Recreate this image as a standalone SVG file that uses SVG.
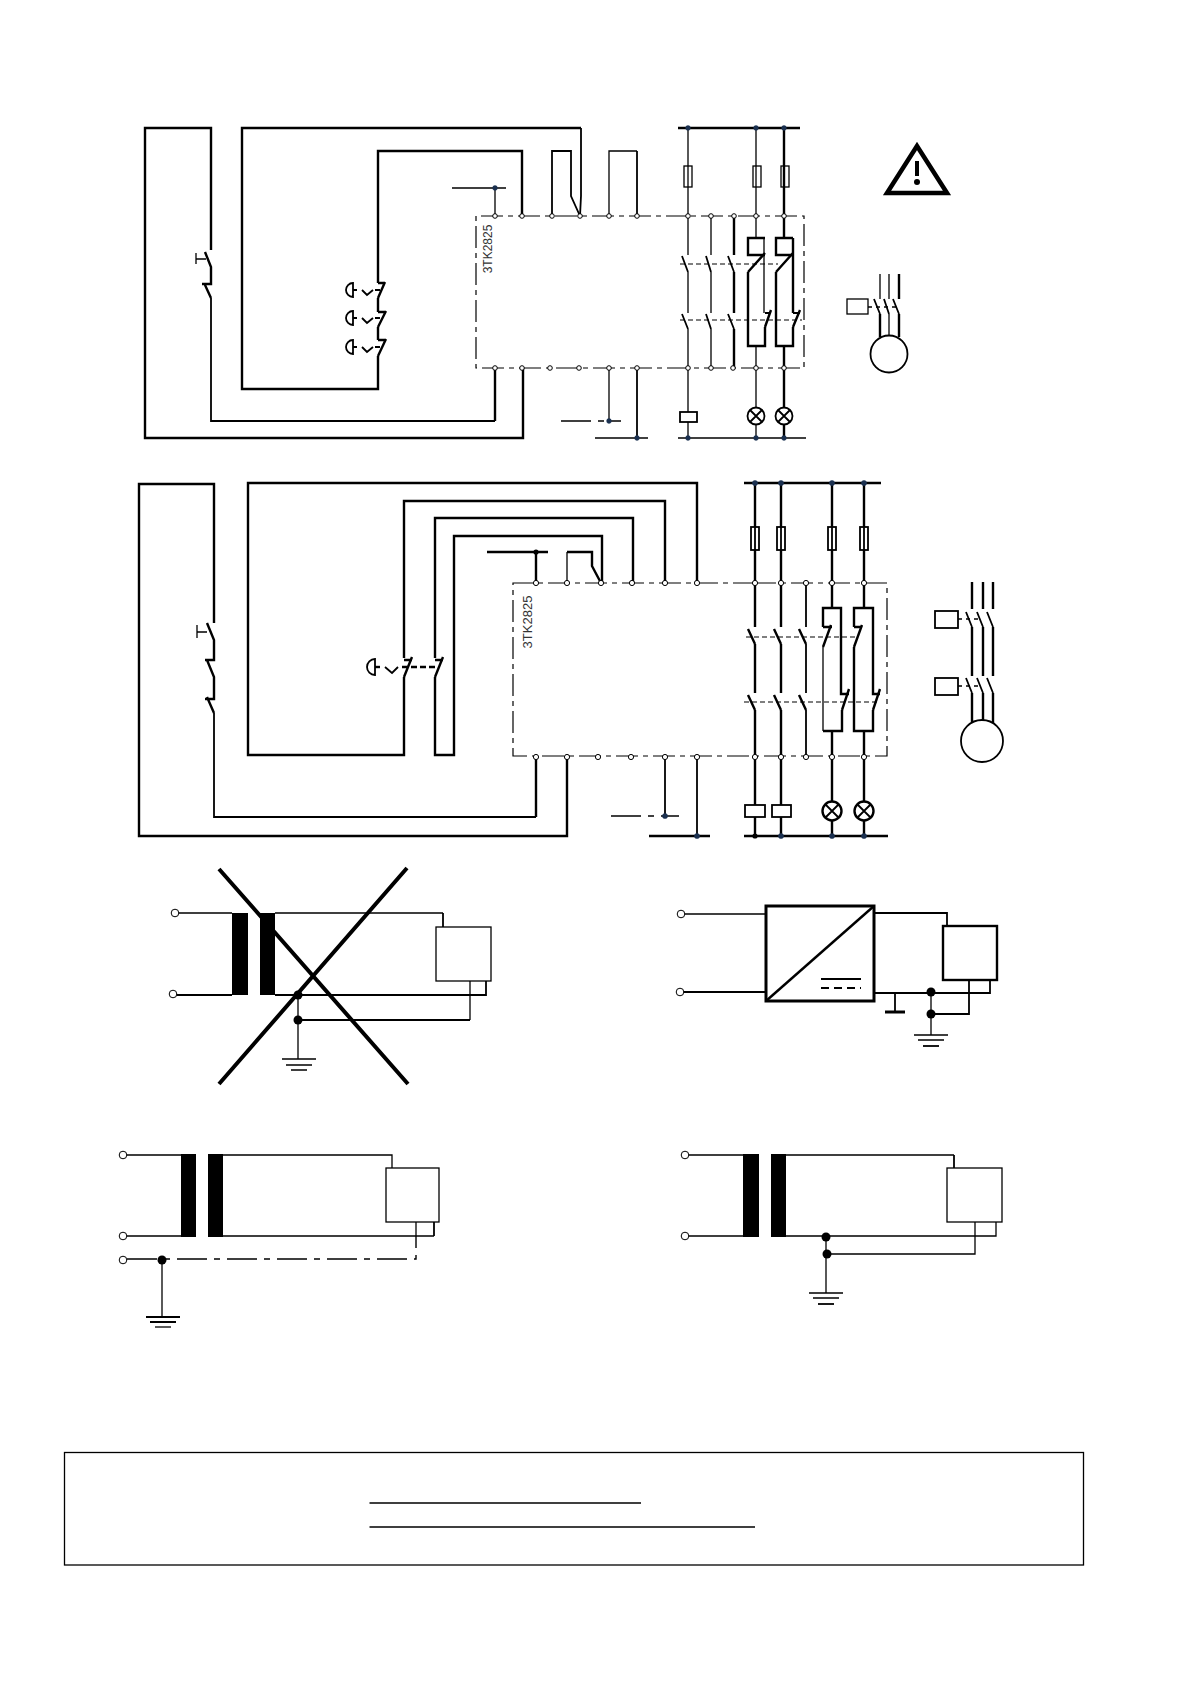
<svg xmlns="http://www.w3.org/2000/svg" width="1190" height="1684" viewBox="0 0 1190 1684">
<style>
path,line,rect,circle{stroke:#000;fill:none}
.a{stroke-width:1.3}
.b{stroke-width:1.8}
.c{stroke-width:2.4}
.d{stroke-width:3}
.box{stroke-width:1.2;stroke-dasharray:22 5 5 5}
.dd{stroke-width:1.1;stroke-dasharray:5 3}
.dc{stroke-width:1.4;stroke-dasharray:30 7 6 7}
.t{fill:#fff;stroke-width:1}
.n{fill:#1a3050;stroke:#1a3050;stroke-width:.5}
.k{fill:#000;stroke:none}
.w{fill:#fff}
.core{fill:#000;stroke:none}
text{font-family:"Liberation Sans",Arial,sans-serif;fill:#333}
</style>
<rect width="1190" height="1684" style="fill:#fff;stroke:none"/>
<g id="connectors">
<g id="top-wires">
<path class="c" d="M211 250V128H145V438H523V368"/>
<path class="b" d="M211 298V421H495"/><path class="c" d="M495 421V368"/>
<path class="c" d="M378 283V151H522V216"/>
<path class="c" d="M378 356V389H242V128H581"/><path class="b" d="M581 128V196L580 216"/>
<path class="c" d="M378 298V312M378 327V340"/>
<path class="a" d="M495 216V188M452 188H506"/>
<path class="b" d="M552 216V151H571V196L580 216"/>
<path class="a" d="M609 216V151H637"/><path class="b" d="M637 151V216"/>
<path class="a" d="M609 368V421"/><path class="dc" d="M561 421H621"/>
<path class="b" d="M637 368V438"/><path class="a" d="M595 438H648"/>
<path class="c" d="M678 128H800"/>
<path class="a" d="M678 438H806"/>
<path class="a" d="M688 128V255M688 272V313M688 329V438"/>
<path class="a" d="M711 216V255M711 272V313M711 329V368"/>
<path class="c" d="M734 216V255M734 272V313M734 329V368"/>
<path class="a" d="M756 128V238M756 346V438"/>
<path class="c" d="M784 128V238M784 346V438"/>
<path class="c" d="M756 238H748V255H765M765 238H756"/><path class="a" d="M764 238V313"/>
<path class="c" d="M748 272V346H765V327"/>
<path class="c" d="M784 238H776V255H793M793 238H784V238M793 238V313"/>
<path class="c" d="M776 272V346H793V327"/>
<path class="b" d="M765 313H771M793 313H800"/>
<path class="dd" d="M680 264H778M680 320H802"/>
<path class="box" d="M688 216H476V368H804V216H688"/>
</g>
<g id="mid-wires">
<path class="c" d="M214 623V484H139V836H567V757"/>
<path class="b" d="M214 713V817H536"/><path class="c" d="M536 817V757"/>
<path class="c" d="M404 658V501H665V583"/>
<path class="c" d="M404 677V755H248V483H697V583"/>
<path class="c" d="M435 658V518H633V583"/>
<path class="c" d="M435 677V755H454V536H602V583"/>
<path class="c" d="M487 552H548M536 552V583"/>
<path class="a" d="M567 583V552"/><path class="c" d="M567 552H592V566L601 583"/>
<path class="b" d="M665 757V816"/><path class="dc" d="M611 816H679"/>
<path class="b" d="M697 757V836"/><path class="c" d="M649 836H710"/>
<path class="c" d="M744 483H881"/><path class="c" d="M744 836H888"/>
<path class="c" d="M755 483V627M755 644V693M755 710V836"/>
<path class="c" d="M781 483V627M781 644V693M781 710V836"/>
<path class="b" d="M806 583V627M806 644V693M806 710V757"/>
<path class="c" d="M832 483V608M832 731V836"/>
<path class="c" d="M864 483V608M864 731V836"/>
<path class="c" d="M823 627V608H841V694H849M823 627H832"/>
<path class="a" d="M823 647V731"/><path class="c" d="M823 731H842V710"/>
<path class="c" d="M854 627V608H873V694H880M854 627H862"/>
<path class="c" d="M854 647V731H873V710"/>
<path class="dd" d="M746 637H857M744 702H877"/>
<path class="box" d="M755 583H513V756H887V583H755"/>
</g>
</g>
<g id="top-contacts">
<g id="sw-s1"><path class="c" d="M205 252L211 267V284H202M205 285L211 298"/><path class="a" d="M196 253V264M196 259H206"/></g>
<g id="estops">
<path class="c" d="M378 283H385M385 282L378 298M378 312H386M386 311L378 327M378 340H386M386 339L378 356"/>
<path class="b" d="M353 283A7 7 0 0 0 353 297ZM353 290H357M362 290L367 295L373 290M375 290H380"/>
<path class="b" d="M353 311A7 7 0 0 0 353 325ZM353 318H357M362 318L367 323L373 318M375 318H380"/>
<path class="b" d="M353 340A7 7 0 0 0 353 354ZM353 347H357M362 347L367 352L373 347M375 347H380"/>
</g>
<path class="b" d="M682 256L688 272M682 314L688 329M706 256L711 272M706 314L711 329M728 256L734 272M728 314L734 329"/>
<path class="c" d="M765 253L748 272M793 253L776 272M771 310L765 327M800 310L793 327"/>
</g>
<g id="top-symbols">
<rect class="w a" x="684" y="166" width="8" height="21"/><rect class="w a" x="753" y="166" width="8" height="21"/><rect class="w a" x="781" y="166" width="8" height="21"/>
<path class="a" d="M688 166V187M756 166V187"/><path class="c" d="M784 166V187"/>
<rect class="w b" x="680" y="412" width="17" height="10"/>
<g id="lamps1"><circle class="w b" cx="756" cy="416" r="8.5"/><path class="b" d="M750 410L762 422M762 410L750 422"/><circle class="w b" cx="784" cy="416" r="8.5"/><path class="b" d="M778 410L790 422M790 410L778 422"/></g>
<g id="motor1">
<rect class="a" x="847" y="299" width="21" height="15"/>
<path class="a" d="M880 274V299M889 274V299"/><path class="c" d="M899 274V299"/>
<path class="a" d="M868 307H872M876 307H880M884 307H888M892 307H896"/>
<path class="b" d="M874 299L880 314M884 299L889 314M893 299L899 314"/>
<path class="c" d="M880 314V337M899 314V337"/><path class="a" d="M889 314V336"/>
<circle class="w b" cx="889" cy="354" r="18.5"/>
</g>
<g id="warning"><path d="M917 146L947 193H887Z" style="stroke-width:4.5;stroke-linejoin:miter"/><path d="M917 161V176" style="stroke-width:4"/><circle class="k" cx="917" cy="182" r="3"/></g>
<text id="label-top" transform="translate(492 249) rotate(-90)" text-anchor="middle" font-size="12">3TK2825</text>
</g>
<g id="mid-contacts">
<path class="c" d="M207 623L214 640V660H205M207 660L214 677V699H205M207 697L214 713"/>
<path class="a" d="M197 625V638M197 632H207"/>
<path class="c" d="M748 629L755 644M748 695L755 710M774 629L781 644M774 695L781 710M799 629L806 644M799 695L806 710"/>
<path class="c" d="M831 625L823 647M862 625L854 647M849 689L842 710M880 689L873 710"/>
<g id="estop2">
<path class="c" d="M404 660H412M412 657L404 677M435 660H443M443 657L435 677"/>
<path class="b" d="M375 659A8 8 0 0 0 375 675ZM385 667L392 673L398 667"/>
<path class="c" d="M375 667H380"/><path class="c" d="M402 667H437" stroke-dasharray="6 3"/>
</g>
</g>
<g id="mid-symbols">
<rect class="w b" x="751" y="527" width="8" height="23"/><rect class="w b" x="777" y="527" width="8" height="23"/><rect class="w b" x="828" y="527" width="8" height="23"/><rect class="w b" x="860" y="527" width="8" height="23"/>
<path class="b" d="M755 527V550M781 527V550M832 527V550M864 527V550"/>
<rect class="w b" x="745" y="805" width="20" height="12"/><rect class="w b" x="772" y="805" width="19" height="12"/>
<g id="lamps2"><circle class="w c" cx="832" cy="811" r="9.5"/><path class="b" d="M825 804L839 818M839 804L825 818"/><circle class="w c" cx="864" cy="811" r="9.5"/><path class="b" d="M857 804L871 818M871 804L857 818"/></g>
<g id="motor2">
<rect class="b" x="935" y="611" width="23" height="17"/><rect class="b" x="935" y="678" width="23" height="17"/>
<path class="c" d="M972 582V609M983 582V609M993 582V609M972 627V676M983 627V676M993 627V676M972 693V722M983 693V720M993 693V726"/>
<path class="b" d="M966 612L972 627M977 612L983 627M987 612L993 627M966 678L972 693M977 678L983 693M987 678L993 693"/>
<path class="a" d="M958 619H962M966 619H970M974 619H978M958 686H962M966 686H970M974 686H978"/>
<circle class="w b" cx="982" cy="741" r="21"/>
</g>
<text id="label-mid" transform="translate(532 622) rotate(-90)" text-anchor="middle" font-size="13">3TK2825</text>
</g>
<g id="terminals">
<circle class="t" cx="495" cy="216" r="2.3"/><circle class="t" cx="522" cy="216" r="2.3"/><circle class="t" cx="552" cy="216" r="2.3"/><circle class="t" cx="580" cy="216" r="2.3"/><circle class="t" cx="609" cy="216" r="2.3"/><circle class="t" cx="637" cy="216" r="2.3"/><circle class="t" cx="688" cy="216" r="2.3"/><circle class="t" cx="711" cy="216" r="2.3"/><circle class="t" cx="734" cy="216" r="2.3"/><circle class="t" cx="756" cy="216" r="2.3"/><circle class="t" cx="784" cy="216" r="2.3"/>
<circle class="t" cx="495" cy="368" r="2.3"/><circle class="t" cx="522" cy="368" r="2.3"/><circle class="t" cx="550" cy="368" r="2.3"/><circle class="t" cx="579" cy="368" r="2.3"/><circle class="t" cx="609" cy="368" r="2.3"/><circle class="t" cx="637" cy="368" r="2.3"/><circle class="t" cx="688" cy="368" r="2.3"/><circle class="t" cx="711" cy="368" r="2.3"/><circle class="t" cx="733" cy="368" r="2.3"/><circle class="t" cx="756" cy="368" r="2.3"/><circle class="t" cx="784" cy="368" r="2.3"/>
<circle class="t" cx="536" cy="583" r="2.6"/><circle class="t" cx="567" cy="583" r="2.6"/><circle class="t" cx="601" cy="583" r="2.6"/><circle class="t" cx="632" cy="583" r="2.6"/><circle class="t" cx="665" cy="583" r="2.6"/><circle class="t" cx="697" cy="583" r="2.6"/><circle class="t" cx="755" cy="583" r="2.6"/><circle class="t" cx="781" cy="583" r="2.6"/><circle class="t" cx="806" cy="583" r="2.6"/><circle class="t" cx="832" cy="583" r="2.6"/><circle class="t" cx="864" cy="583" r="2.6"/>
<circle class="t" cx="536" cy="757" r="2.6"/><circle class="t" cx="567" cy="757" r="2.6"/><circle class="t" cx="598" cy="757" r="2.6"/><circle class="t" cx="631" cy="757" r="2.6"/><circle class="t" cx="665" cy="757" r="2.6"/><circle class="t" cx="697" cy="757" r="2.6"/><circle class="t" cx="755" cy="757" r="2.6"/><circle class="t" cx="781" cy="757" r="2.6"/><circle class="t" cx="806" cy="757" r="2.6"/><circle class="t" cx="832" cy="757" r="2.6"/><circle class="t" cx="864" cy="757" r="2.6"/>
</g>
<g id="junctions">
<circle class="n" cx="495" cy="188" r="2.4"/><circle class="n" cx="688" cy="128" r="2.4"/><circle class="n" cx="756" cy="128" r="2.4"/><circle class="n" cx="784" cy="128" r="2.4"/><circle class="n" cx="609" cy="421" r="2.4"/><circle class="n" cx="637" cy="438" r="2.4"/><circle class="n" cx="688" cy="438" r="2.4"/><circle class="n" cx="756" cy="438" r="2.4"/><circle class="n" cx="784" cy="438" r="2.4"/>
<circle class="k" cx="536" cy="552" r="2.6"/><circle class="n" cx="755" cy="483" r="2.6"/><circle class="n" cx="781" cy="483" r="2.6"/><circle class="n" cx="832" cy="483" r="2.6"/><circle class="n" cx="864" cy="483" r="2.6"/><circle class="n" cx="665" cy="816" r="2.6"/><circle class="n" cx="697" cy="836" r="2.6"/><circle class="k" cx="755" cy="836" r="2.6"/><circle class="n" cx="781" cy="836" r="2.6"/><circle class="n" cx="832" cy="836" r="2.6"/><circle class="n" cx="864" cy="836" r="2.6"/>
</g>
<g id="fig-crossed">
<path class="a" d="M175 913H232M275 913H443"/><path class="b" d="M443 913V927"/>
<path class="b" d="M173 995H232M275 995H486V981M298 1020H470"/><path class="a" d="M470 1020V981M298 995V1059"/>
<path class="a" d="M282 1059H316M286 1065H312M291 1070H307"/>
<path d="M219 869L408 1084M407 868L219 1084" style="stroke-width:4"/>
<rect class="core" x="232" y="913" width="16" height="82"/><rect class="core" x="260" y="913" width="15" height="82"/>
<rect class="w a" x="436" y="927" width="55" height="54"/>
<circle class="t" cx="175" cy="913" r="3.8"/><circle class="t" cx="173" cy="994" r="3.8"/>
<circle class="k" cx="298" cy="995" r="4.5"/><circle class="k" cx="298" cy="1020" r="4.5"/>
</g>
<g id="fig-converter">
<path class="a" d="M681 914H766"/><path class="b" d="M680 992H766"/>
<rect class="w d" x="766" y="906" width="108" height="95"/><path class="c" d="M766 1001L874 906"/>
<path class="b" d="M821 979H861"/><path class="b" d="M821 988H861" stroke-dasharray="8 5"/>
<path class="b" d="M874 913H947V926M874 993H990V980M931 1014H969V980"/>
<path class="b" d="M895 993V1012"/><path class="d" d="M885 1012H905"/>
<path class="a" d="M931 992V1035M914 1035H948M918 1040H944"/><path class="b" d="M923 1046H939"/>
<rect class="w c" x="943" y="926" width="54" height="54"/>
<circle class="t" cx="681" cy="914" r="3.8"/><circle class="t" cx="680" cy="992" r="3.8"/>
<circle class="k" cx="931" cy="992" r="4.5"/><circle class="k" cx="931" cy="1014" r="4.5"/>
</g>
<g id="fig-pe">
<path class="a" d="M123 1155H181M223 1155H392V1168M123 1236H181M223 1236H434"/><path class="b" d="M434 1236V1222"/>
<path class="a" d="M416 1222V1236"/>
<path class="dc" d="M127 1259H416V1236"/>
<path class="a" d="M162 1260V1317"/><path class="b" d="M146 1317H180M150 1322H176"/><path class="a" d="M155 1327H171"/>
<rect class="core" x="181" y="1154" width="15" height="83"/><rect class="core" x="208" y="1154" width="15" height="83"/>
<rect class="w a" x="386" y="1168" width="53" height="54"/>
<circle class="t" cx="123" cy="1155" r="3.8"/><circle class="t" cx="123" cy="1236" r="3.8"/><circle class="t" cx="123" cy="1260" r="3.8"/>
<circle class="k" cx="162" cy="1260" r="4.5"/>
</g>
<g id="fig-grounded">
<path class="a" d="M685 1155H743M786 1155H954M685 1236H743M786 1236H996V1222M826 1254H975V1222"/><path class="b" d="M954 1155V1168"/>
<path class="a" d="M826 1237V1293M809 1293H843M813 1298H839"/><path class="b" d="M818 1304H834"/>
<rect class="core" x="743" y="1154" width="16" height="83"/><rect class="core" x="771" y="1154" width="15" height="83"/>
<rect class="w a" x="947" y="1168" width="55" height="54"/>
<circle class="t" cx="685" cy="1155" r="3.8"/><circle class="t" cx="685" cy="1236" r="3.8"/>
<circle class="k" cx="826" cy="1237" r="4.5"/><circle class="k" cx="827" cy="1254" r="4.5"/>
</g>
<g id="legend">
<rect class="a" x="64.5" y="1452.5" width="1019" height="112.5"/>
<path class="a" d="M369.5 1503H641M369.5 1527H755"/>
</g>
</svg>
